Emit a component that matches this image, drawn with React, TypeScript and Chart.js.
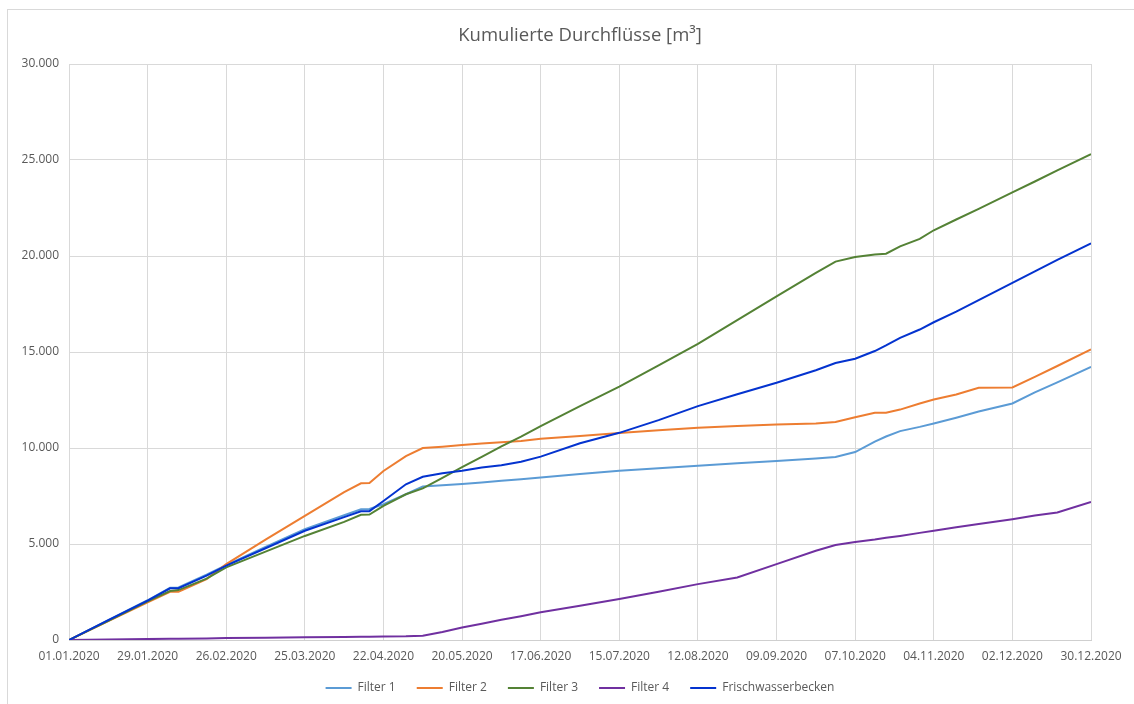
import React, { useEffect, useRef } from "react";
import { Chart, registerables } from "chart.js";

Chart.register(...registerables);

const FONT = "'Open Sans', 'Liberation Sans', sans-serif";
const TEXT_COLOR = "#595959";
const GRID_COLOR = "#d9d9d9";

// Day offsets from 01.01.2020
const days = [0, 14, 28, 36, 39, 49, 56, 70, 84, 98, 104, 107, 112, 120, 126, 133, 140, 147, 154, 161, 168, 182, 196, 210, 224, 238, 252, 266, 273, 280, 287, 291, 296, 303, 308, 316, 324, 336, 344, 352, 364];

const filter1 = [0, 1040, 2070, 2720, 2740, 3400, 3900, 4850, 5770, 6500, 6810, 6820, 7070, 7590, 7990, 8060, 8120, 8200, 8290, 8370, 8460, 8640, 8810, 8940, 9070, 9200, 9320, 9450, 9530, 9790, 10330, 10600, 10880, 11100, 11280, 11580, 11900, 12320, 12900, 13420, 14230];
const filter2 = [0, 990, 1960, 2510, 2510, 3170, 3950, 5230, 6470, 7700, 8160, 8180, 8800, 9580, 10000, 10070, 10150, 10230, 10300, 10370, 10480, 10620, 10780, 10930, 11060, 11150, 11230, 11280, 11350, 11600, 11840, 11840, 12000, 12320, 12530, 12790, 13140, 13150, 13700, 14270, 15130];
const filter3 = [0, 1000, 2010, 2550, 2600, 3200, 3780, 4600, 5420, 6150, 6520, 6530, 6990, 7590, 7900, 8450, 9000, 9540, 10080, 10590, 11140, 12180, 13200, 14300, 15420, 16660, 17900, 19120, 19710, 19950, 20080, 20120, 20500, 20890, 21340, 21900, 22450, 23310, 23880, 24460, 25310];
const filter4 = [0, 20, 50, 60, 60, 80, 100, 120, 140, 160, 170, 170, 180, 190, 220, 420, 650, 850, 1050, 1240, 1440, 1780, 2130, 2510, 2910, 3260, 3950, 4650, 4950, 5110, 5230, 5320, 5420, 5580, 5690, 5870, 6040, 6290, 6480, 6640, 7190];
const frischwasser = [0, 1030, 2050, 2690, 2700, 3350, 3870, 4780, 5690, 6400, 6700, 6710, 7240, 8110, 8500, 8680, 8820, 8990, 9100, 9280, 9550, 10250, 10790, 11450, 12180, 12800, 13400, 14050, 14430, 14650, 15050, 15340, 15740, 16170, 16550, 17100, 17700, 18600, 19200, 19800, 20660];

const seriesLabels = ["Filter 1", "Filter 2", "Filter 3", "Filter 4", "Frischwasserbecken"];
const seriesColors = ["#5B9BD5", "#ED7D31", "#548235", "#7030A0", "#0433CF"];
const seriesValues = [filter1, filter2, filter3, filter4, frischwasser];

const TITLE = "Kumulierte Durchflüsse [m³]";
const X_MIN = 0;
const X_MAX = 364;
const X_STEP = 28;
const Y_MIN = 0;
const Y_MAX = 30000;
const Y_STEP = 5000;

const START = Date.UTC(2020, 0, 1);
const pad2 = (n: number) => (n < 10 ? "0" + n : String(n));
const fmtDate = (d: number) => {
  const dt = new Date(START + d * 86400000);
  return pad2(dt.getUTCDate()) + "." + pad2(dt.getUTCMonth() + 1) + "." + dt.getUTCFullYear();
};
const fmtNum = (v: number) => String(Math.round(v)).replace(/\B(?=(\d{3})+(?!\d))/g, ".");

export default function App() {
  const ref = useRef<HTMLCanvasElement>(null);

  useEffect(() => {
    if (!ref.current) return;
    const chart = new Chart(ref.current, {
      type: "line",
      data: {
        datasets: seriesLabels.map((label, i) => ({
          label,
          data: days.map((d, j) => ({ x: d, y: seriesValues[i][j] })),
          borderColor: seriesColors[i],
          backgroundColor: seriesColors[i],
          borderWidth: 2,
          pointRadius: 0,
          tension: 0,
          fill: false,
          order: seriesLabels.length - i,
        })),
      },
      options: {
        responsive: false,
        animation: false,
        layout: { padding: { left: 0, right: 43, top: 0, bottom: 0 } },
        plugins: {
          title: {
            display: true,
            fullSize: false,
            text: TITLE,
            color: TEXT_COLOR,
            font: { family: FONT, size: 18.5, weight: "normal" },
            padding: { top: 24.9, bottom: 16.9 },
          },
          legend: {
            position: "bottom",
            fullSize: false,
            labels: {
              usePointStyle: true,
              pointStyle: "line",
              pointStyleWidth: 26,
              color: TEXT_COLOR,
              font: { family: FONT, size: 12 },
              padding: 21,
              sort: (a: any, b: any) => a.datasetIndex - b.datasetIndex,
            },
          },
          tooltip: { enabled: false },
        },
        scales: {
          x: {
            type: "linear",
            min: X_MIN,
            max: X_MAX,
            ticks: {
              stepSize: X_STEP,
              autoSkip: false,
              maxRotation: 0,
              color: TEXT_COLOR,
              font: { family: FONT, size: 12 },
              padding: 9,
              callback: (v: any) => fmtDate(Number(v)),
            },
            grid: { color: GRID_COLOR, drawTicks: false },
            border: { color: "#cfcfcf" },
            afterFit: (s: any) => {
              s.height = 21;
            },
          },
          y: {
            min: Y_MIN,
            max: Y_MAX,
            ticks: {
              stepSize: Y_STEP,
              color: TEXT_COLOR,
              font: { family: FONT, size: 12 },
              padding: 10,
              callback: (v: any) => fmtNum(Number(v)),
            },
            grid: { color: GRID_COLOR, drawTicks: false },
            border: { display: false },
            afterFit: (s: any) => {
              s.width = 69;
            },
          },
        },
      },
    });
    return () => chart.destroy();
  }, []);

  return (
    <div style={{ position: "fixed", left: 0, top: 0, width: 1134, height: 704, overflow: "hidden", background: "#fff" }}>
      <div
        style={{
          position: "absolute",
          left: 7,
          top: 9,
          width: 1140,
          height: 710,
          border: "1px solid #d9d9d9",
          boxSizing: "border-box",
        }}
      />
      <canvas ref={ref} width={1134} height={704} style={{ position: "absolute", left: 0, top: 0, width: 1134, height: 704 }} />
    </div>
  );
}
